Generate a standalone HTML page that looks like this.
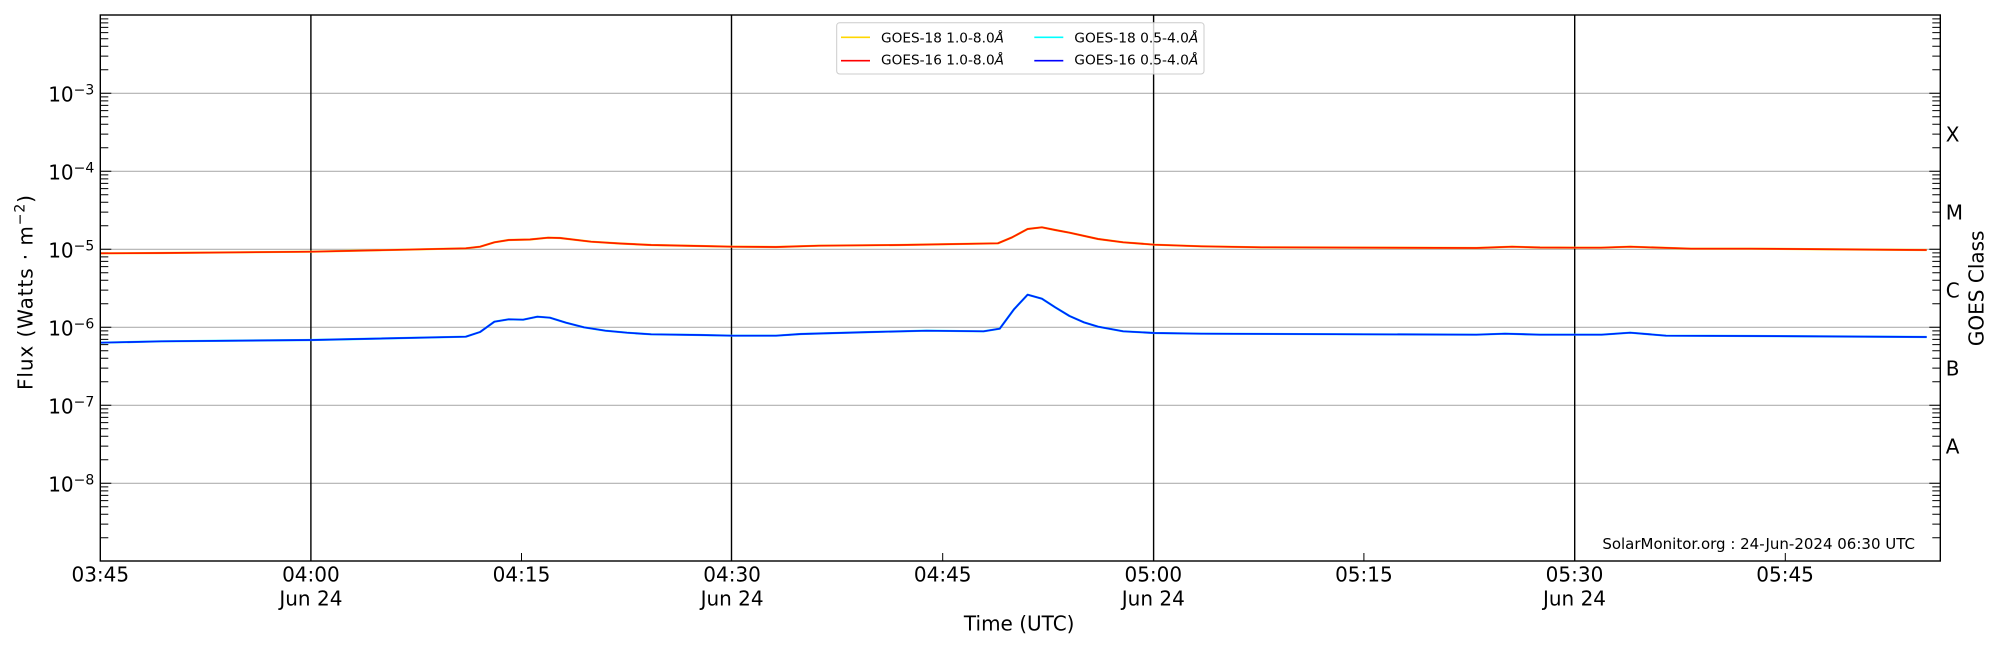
<!DOCTYPE html>
<html><head><meta charset="utf-8"><style>
html,body{margin:0;padding:0;background:#fff;}
svg{display:block;font-family:"DejaVu Sans","Liberation Sans",sans-serif;}
</style></head><body>
<svg width="2000" height="650" viewBox="0 0 2000 650" xmlns="http://www.w3.org/2000/svg">
<rect width="2000" height="650" fill="#fff"/>
<!-- grid -->
<g stroke="#b0b0b0" stroke-width="1.1">
<path d="M100.3 93.3H1940.3M100.3 171.3H1940.3M100.3 249.3H1940.3M100.3 327.3H1940.3M100.3 405.3H1940.3M100.3 483.3H1940.3"/>
</g>
<!-- vertical black lines -->
<g stroke="#000" stroke-width="1.4">
<path d="M310.9 15V561M731.5 15V561M1153.6 15V561M1574.7 15V561"/>
</g>
<!-- minor ticks left/right -->
<g stroke="#000" stroke-width="1">
<path id="mt" d="M100.3 537.8h8M100.3 524.1h8M100.3 514.3h8M100.3 506.8h8M100.3 500.6h8M100.3 495.4h8M100.3 490.9h8M100.3 486.9h8
M100.3 459.8h8M100.3 446.1h8M100.3 436.3h8M100.3 428.8h8M100.3 422.6h8M100.3 417.4h8M100.3 412.9h8M100.3 408.9h8
M100.3 381.8h8M100.3 368.1h8M100.3 358.3h8M100.3 350.8h8M100.3 344.6h8M100.3 339.4h8M100.3 334.9h8M100.3 330.9h8
M100.3 303.8h8M100.3 290.1h8M100.3 280.3h8M100.3 272.8h8M100.3 266.6h8M100.3 261.4h8M100.3 256.9h8M100.3 252.9h8
M100.3 225.8h8M100.3 212.1h8M100.3 202.3h8M100.3 194.8h8M100.3 188.6h8M100.3 183.4h8M100.3 178.9h8M100.3 174.9h8
M100.3 147.8h8M100.3 134.1h8M100.3 124.3h8M100.3 116.8h8M100.3 110.6h8M100.3 105.4h8M100.3 100.9h8M100.3 96.9h8
M100.3 69.8h8M100.3 56.1h8M100.3 46.3h8M100.3 38.8h8M100.3 32.6h8M100.3 27.4h8M100.3 22.9h8M100.3 18.9h8
M100.3 93.3h11M100.3 171.3h11M100.3 249.3h11M100.3 327.3h11M100.3 405.3h11M100.3 483.3h11"/>
<path d="M1940.3 537.8h-8M1940.3 524.1h-8M1940.3 514.3h-8M1940.3 506.8h-8M1940.3 500.6h-8M1940.3 495.4h-8M1940.3 490.9h-8M1940.3 486.9h-8
M1940.3 459.8h-8M1940.3 446.1h-8M1940.3 436.3h-8M1940.3 428.8h-8M1940.3 422.6h-8M1940.3 417.4h-8M1940.3 412.9h-8M1940.3 408.9h-8
M1940.3 381.8h-8M1940.3 368.1h-8M1940.3 358.3h-8M1940.3 350.8h-8M1940.3 344.6h-8M1940.3 339.4h-8M1940.3 334.9h-8M1940.3 330.9h-8
M1940.3 303.8h-8M1940.3 290.1h-8M1940.3 280.3h-8M1940.3 272.8h-8M1940.3 266.6h-8M1940.3 261.4h-8M1940.3 256.9h-8M1940.3 252.9h-8
M1940.3 225.8h-8M1940.3 212.1h-8M1940.3 202.3h-8M1940.3 194.8h-8M1940.3 188.6h-8M1940.3 183.4h-8M1940.3 178.9h-8M1940.3 174.9h-8
M1940.3 147.8h-8M1940.3 134.1h-8M1940.3 124.3h-8M1940.3 116.8h-8M1940.3 110.6h-8M1940.3 105.4h-8M1940.3 100.9h-8M1940.3 96.9h-8
M1940.3 69.8h-8M1940.3 56.1h-8M1940.3 46.3h-8M1940.3 38.8h-8M1940.3 32.6h-8M1940.3 27.4h-8M1940.3 22.9h-8M1940.3 18.9h-8
M1940.3 93.3h-11M1940.3 171.3h-11M1940.3 249.3h-11M1940.3 327.3h-11M1940.3 405.3h-11M1940.3 483.3h-11"/>
<path d="M521.5 561v-8M942.7 561v-8M1363.9 561v-8M1785.3 561v-8"/>
</g>
<!-- data: GOES-18 under, GOES-16 on top -->
<g fill="none" stroke-linejoin="round">
<polyline stroke="#ffd700" stroke-width="2.2" points="100.7,253.3 161.6,253 311.9,251.7 465.8,248.3 480.1,246.7 494.4,242.3 508.7,240 530,239.5 548.1,237.7 560,238 591.1,241.7 620,243.5 651.2,245 700,246 732.7,246.7 776,247 819,245.7 900,245 997.9,243.3 1012.2,237.3 1027.6,229 1041.9,227.3 1055.2,230 1069.5,232.7 1098.1,239 1123.2,242.3 1154.3,244.7 1201.2,246.3 1261.6,247.3 1476.3,248 1512.1,246.7 1540,247.5 1576.2,247.7 1601,247.7 1630.2,246.7 1691.1,248.7 1751.2,248.7 1926.7,250"/>
<polyline stroke="#ff1a00" stroke-width="1.7" points="100.7,253.3 161.6,253 311.9,251.7 465.8,248.3 480.1,246.7 494.4,242.3 508.7,240 530,239.5 548.1,237.7 560,238 591.1,241.7 620,243.5 651.2,245 700,246 732.7,246.7 776,247 819,245.7 900,245 997.9,243.3 1012.2,237.3 1027.6,229 1041.9,227.3 1055.2,230 1069.5,232.7 1098.1,239 1123.2,242.3 1154.3,244.7 1201.2,246.3 1261.6,247.3 1476.3,248 1512.1,246.7 1540,247.5 1576.2,247.7 1601,247.7 1630.2,246.7 1691.1,248.7 1751.2,248.7 1926.7,250"/>
<polyline stroke="#00e5ff" stroke-width="2.2" points="100.7,342.7 161.6,341.3 311.9,340 465.8,336.7 480.1,332 494.4,321.7 508.7,319.3 523.1,319.7 537.4,316.7 549.9,317.7 566,322.7 583.9,327.3 605.4,330.7 626.9,332.7 651.2,334.3 700,335 732.7,335.7 776,335.7 801,334 872.6,332 926.3,330.7 983.6,331.3 999.7,328.7 1014,309.3 1027.6,294.7 1041.9,298.7 1055.2,307.3 1069.5,316 1083.8,322.3 1098.1,326.7 1123.2,331.3 1154.3,333 1201.2,333.7 1476.3,334.7 1505,333.7 1540,334.7 1601.6,334.7 1630.2,332.7 1666,335.7 1751.2,336 1926.7,337"/>
<polyline stroke="#0022ff" stroke-width="1.7" points="100.7,342.7 161.6,341.3 311.9,340 465.8,336.7 480.1,332 494.4,321.7 508.7,319.3 523.1,319.7 537.4,316.7 549.9,317.7 566,322.7 583.9,327.3 605.4,330.7 626.9,332.7 651.2,334.3 700,335 732.7,335.7 776,335.7 801,334 872.6,332 926.3,330.7 983.6,331.3 999.7,328.7 1014,309.3 1027.6,294.7 1041.9,298.7 1055.2,307.3 1069.5,316 1083.8,322.3 1098.1,326.7 1123.2,331.3 1154.3,333 1201.2,333.7 1476.3,334.7 1505,333.7 1540,334.7 1601.6,334.7 1630.2,332.7 1666,335.7 1751.2,336 1926.7,337"/>
</g>
<!-- spines -->
<rect x="100.3" y="15" width="1840" height="546" fill="none" stroke="#000" stroke-width="1.4"/>
<!-- legend -->
<rect x="836.7" y="22.7" width="367.3" height="51.3" rx="3" fill="#fff" fill-opacity="0.8" stroke="#cccccc" stroke-width="1"/>
<g stroke-width="1.6">
<path d="M841 37.3H870" stroke="#ffd700"/>
<path d="M841 60.7H870" stroke="#ff0000"/>
<path d="M1034.3 37.3H1063.3" stroke="#00ffff"/>
<path d="M1034.3 60.7H1063.3" stroke="#0000ff"/>
</g>
<g font-size="13.5" fill="#000">
<text x="881" y="42.3" textLength="123" lengthAdjust="spacingAndGlyphs">GOES-18 1.0-8.0<tspan font-style="italic">Å</tspan></text>
<text x="881" y="64.5" textLength="123" lengthAdjust="spacingAndGlyphs">GOES-16 1.0-8.0<tspan font-style="italic">Å</tspan></text>
<text x="1074.3" y="42.3" textLength="124" lengthAdjust="spacingAndGlyphs">GOES-18 0.5-4.0<tspan font-style="italic">Å</tspan></text>
<text x="1074.3" y="64.5" textLength="124" lengthAdjust="spacingAndGlyphs">GOES-16 0.5-4.0<tspan font-style="italic">Å</tspan></text>
</g>
<!-- y tick labels -->
<g font-size="20" fill="#000" text-anchor="end">
<text x="94.3" y="101.7">10<tspan font-size="14" dy="-7.4">−3</tspan></text>
<text x="94.3" y="179.7">10<tspan font-size="14" dy="-7.4">−4</tspan></text>
<text x="94.3" y="257.7">10<tspan font-size="14" dy="-7.4">−5</tspan></text>
<text x="94.3" y="335.7">10<tspan font-size="14" dy="-7.4">−6</tspan></text>
<text x="94.3" y="413.7">10<tspan font-size="14" dy="-7.4">−7</tspan></text>
<text x="94.3" y="491.7">10<tspan font-size="14" dy="-7.4">−8</tspan></text>
</g>
<!-- x tick labels -->
<g font-size="20" fill="#000" text-anchor="middle">
<text x="100.3" y="581.7">03:45</text>
<text x="310.9" y="581.7">04:00</text><text x="310.9" y="605.7">Jun 24</text>
<text x="521.5" y="581.7">04:15</text>
<text x="732.1" y="581.7">04:30</text><text x="732.1" y="605.7">Jun 24</text>
<text x="942.7" y="581.7">04:45</text>
<text x="1153.3" y="581.7">05:00</text><text x="1153.3" y="605.7">Jun 24</text>
<text x="1363.9" y="581.7">05:15</text>
<text x="1574.5" y="581.7">05:30</text><text x="1574.5" y="605.7">Jun 24</text>
<text x="1785.1" y="581.7">05:45</text>
<text x="1019.2" y="630.7">Time (UTC)</text>
</g>
<!-- right class labels -->
<g font-size="20" fill="#000">
<text x="1945.7" y="141.5">X</text>
<text x="1945.7" y="219.5">M</text>
<text x="1945.7" y="297.5">C</text>
<text x="1945.7" y="375.5">B</text>
<text x="1945.7" y="453.5">A</text>
</g>
<text font-size="20" fill="#000" text-anchor="middle" transform="translate(1983.3,288.3) rotate(-90)">GOES Class</text>
<text font-size="20" fill="#000" text-anchor="middle" transform="translate(32.3,292.5) rotate(-90)" textLength="195" lengthAdjust="spacing">Flux (Watts · m<tspan font-size="14" dy="-8">−2</tspan><tspan dy="8">)</tspan></text>
<!-- timestamp -->
<text x="1915" y="549" font-size="15" fill="#000" text-anchor="end">SolarMonitor.org : 24-Jun-2024 06:30 UTC</text>
</svg>
</body></html>
